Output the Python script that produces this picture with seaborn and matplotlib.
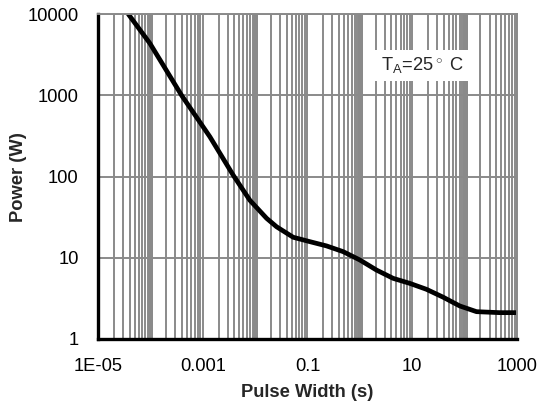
import matplotlib
matplotlib.use("Agg")
import matplotlib.pyplot as plt
import pandas as pd
import seaborn as sns
from matplotlib.ticker import FixedLocator, NullLocator

# values (log-log)
pulse_width = [3.8e-05, 9.8e-05, 3.95e-04, 1.37e-03, 3.82e-03, 7.96e-03,
               0.0166, 0.0257, 0.0533, 0.111, 0.231, 0.48, 1.0, 2.08, 4.33,
               9.0, 18.7, 39, 81, 169, 468, 1000]
power = [10000, 4370, 1000, 309, 104, 51,
         30.6, 24.1, 17.9, 15.8, 14.0, 11.9, 9.4, 7.06, 5.58,
         4.84, 4.09, 3.27, 2.55, 2.17, 2.11, 2.11]

x_ticks = [1e-5, 1e-3, 1e-1, 10, 1000]
x_tick_labels = ["1E-05", "0.001", "0.1", "10", "1000"]
y_ticks = [1, 10, 100, 1000, 10000]
y_tick_labels = ["1", "10", "100", "1000", "10000"]

df = pd.DataFrame({"pulse": pulse_width, "power": power})

sns.set_style("white")
plt.rcParams["font.family"] = ["Liberation Sans", "DejaVu Sans"]
plt.rcParams["mathtext.fontset"] = "custom"
plt.rcParams["mathtext.rm"] = "Liberation Sans"

grid_col = "#8a8a8a"
fs = 13.2

fig = plt.figure(figsize=(5.42, 4.05), dpi=100)
ax = fig.add_axes([0.1808, 0.163, 0.773, 0.802])

ax.set_xscale("log")
ax.set_yscale("log")
ax.set_xlim(1e-5, 1000)
ax.set_ylim(1, 10000)

# minor grid: 2..9 in every decade
minor = []
for k in range(-5, 3):
    for n in range(2, 10):
        minor.append(n * 10.0 ** k)
ax.xaxis.set_minor_locator(FixedLocator(minor))
ax.yaxis.set_minor_locator(NullLocator())
ax.grid(True, which="major", color=grid_col, linewidth=1.4)
ax.grid(True, which="minor", axis="x", color=grid_col, linewidth=1.4)
# odd decades look like a dense band in the reference
for d in [1e-4, 1e-2, 1, 100]:
    ax.axvline(d, color=grid_col, linewidth=3.6, zorder=0.5)

sns.lineplot(data=df, x="pulse", y="power", color="black", linewidth=3.4, ax=ax)

ax.set_xticks(x_ticks)
ax.set_xticklabels(x_tick_labels)
ax.set_yticks(y_ticks)
ax.set_yticklabels(y_tick_labels)
ax.tick_params(axis="both", which="both", length=0, labelsize=fs, colors="black")
ax.tick_params(axis="x", pad=14)
ax.tick_params(axis="y", pad=14)

ax.set_xlabel("Pulse Width (s)", fontsize=fs, fontweight="bold", labelpad=6)
ax.set_ylabel("Power (W)", fontsize=fs, fontweight="bold", labelpad=0)

for side in ["left", "bottom"]:
    ax.spines[side].set_color("black")
    ax.spines[side].set_linewidth(2.4)
for side in ["top", "right"]:
    ax.spines[side].set_color(grid_col)
    ax.spines[side].set_linewidth(1.4)

ax.text(0.675, 0.843, r"T$_\mathrm{A}$=25$^\circ$ C", transform=ax.transAxes,
        fontsize=fs, ha="left", va="center",
        bbox=dict(facecolor="white", edgecolor="none", pad=4))

fig.savefig("out.png", dpi=100)
